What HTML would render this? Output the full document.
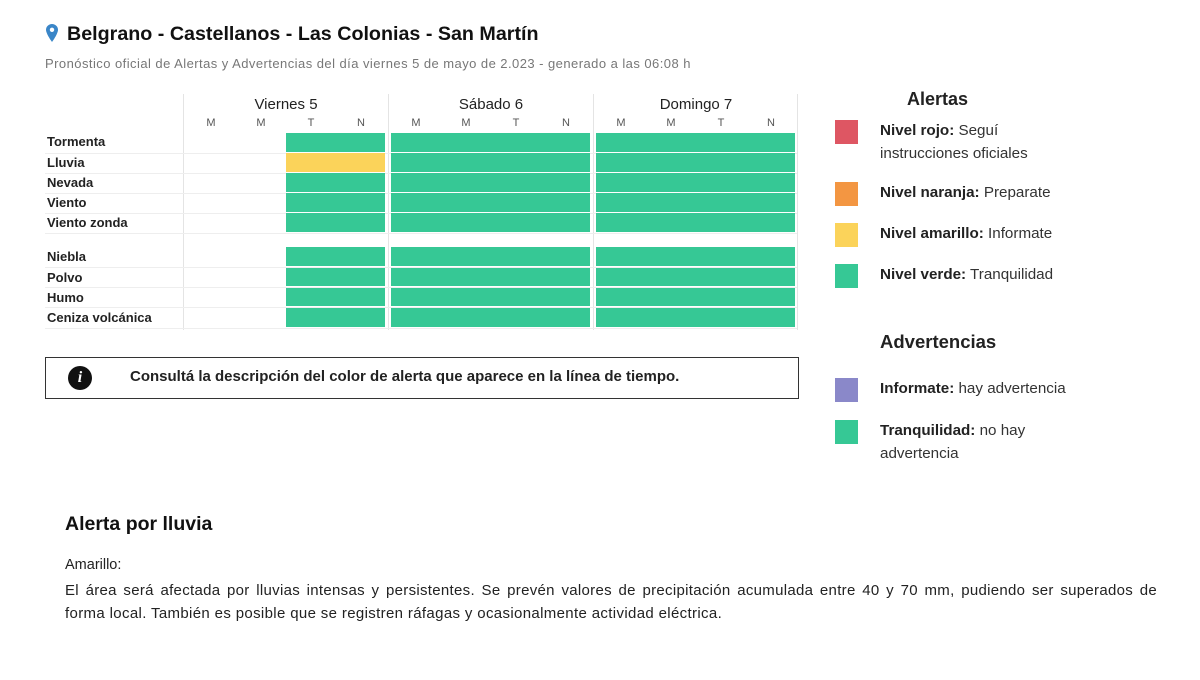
<!DOCTYPE html>
<html><head><meta charset="utf-8"><style>
body{margin:0;width:1200px;height:680px;background:#fff;font-family:"Liberation Sans",Arial,sans-serif;color:#222;position:relative;overflow:hidden}
.a{position:absolute;white-space:nowrap}
.lab{position:absolute;left:47px;font-size:13px;font-weight:bold;color:#222}
.line{position:absolute;left:45px;width:752px;height:1px;background:#eee}
.vs{position:absolute;top:94px;width:1px;height:236px;background:#e4e4e4}
.sw{position:absolute;left:835px;width:23px;height:24px}
.lt{position:absolute;left:880px;font-size:15.2px;color:#333;line-height:23px}
.lt b{color:#222}
.q{position:absolute;top:117px;font-size:11px;color:#555;width:20px;text-align:center}
.d{position:absolute;top:96px;font-size:15px;color:#222;text-align:center;width:200px}
</style></head><body>
<svg class="a" style="left:46px;top:24px" width="12" height="18" viewBox="0 0 12 18"><path d="M6 0C2.7 0 0 2.6 0 5.8 0 10 6 18 6 18s6-8 6-12.2C12 2.6 9.3 0 6 0z" fill="#3a86c8"/><circle cx="6" cy="5.8" r="2.2" fill="#fff"/></svg>
<div class="a" style="left:67px;top:23px;font-size:19.7px;font-weight:bold;color:#111">Belgrano - Castellanos - Las Colonias - San Martín</div>
<div class="a" style="left:45px;top:56px;font-size:13px;letter-spacing:0.45px;color:#777">Pronóstico oficial de Alertas y Advertencias del día viernes 5 de mayo de 2.023 - generado a las 06:08 h</div>

<div class="vs" style="left:183px"></div><div class="vs" style="left:388px"></div><div class="vs" style="left:593px"></div><div class="vs" style="left:797px"></div>
<div class="d" style="left:186px">Viernes 5</div><div class="d" style="left:391px">Sábado 6</div><div class="d" style="left:596px">Domingo 7</div>
<div class="q" style="left:201px">M</div><div class="q" style="left:251px">M</div><div class="q" style="left:301px">T</div><div class="q" style="left:351px">N</div>
<div class="q" style="left:406px">M</div><div class="q" style="left:456px">M</div><div class="q" style="left:506px">T</div><div class="q" style="left:556px">N</div>
<div class="q" style="left:611px">M</div><div class="q" style="left:661px">M</div><div class="q" style="left:711px">T</div><div class="q" style="left:761px">N</div>

<div class="lab" style="top:134px">Tormenta</div><div class="line" style="top:153px"></div>
<div class="lab" style="top:155px">Lluvia</div><div class="line" style="top:173px"></div>
<div class="lab" style="top:175px">Nevada</div><div class="line" style="top:193px"></div>
<div class="lab" style="top:195px">Viento</div><div class="line" style="top:213px"></div>
<div class="lab" style="top:215px">Viento zonda</div><div class="line" style="top:233px"></div>
<div class="lab" style="top:249px">Niebla</div><div class="line" style="top:267px"></div>
<div class="lab" style="top:270px">Polvo</div><div class="line" style="top:287px"></div>
<div class="lab" style="top:290px">Humo</div><div class="line" style="top:307px"></div>
<div class="lab" style="top:310px">Ceniza volcánica</div><div class="line" style="top:328px"></div>

<svg class="a" style="left:0;top:0" width="800" height="340">
<g fill="#36c895">
<rect x="286" y="133" width="99" height="19"/>
<rect x="286" y="173" width="99" height="19"/><rect x="286" y="193" width="99" height="19"/><rect x="286" y="213" width="99" height="19"/>
<rect x="286" y="247" width="99" height="19"/><rect x="286" y="268" width="99" height="18"/><rect x="286" y="288" width="99" height="18"/><rect x="286" y="308" width="99" height="19"/>
</g>
<rect x="286" y="153" width="99" height="19" fill="#fbd35a"/>
<g fill="#36c895">
<rect x="391" y="133" width="199" height="19"/><rect x="391" y="153" width="199" height="19"/><rect x="391" y="173" width="199" height="19"/><rect x="391" y="193" width="199" height="19"/><rect x="391" y="213" width="199" height="19"/>
<rect x="391" y="247" width="199" height="19"/><rect x="391" y="268" width="199" height="18"/><rect x="391" y="288" width="199" height="18"/><rect x="391" y="308" width="199" height="19"/>
<rect x="596" y="133" width="199" height="19"/><rect x="596" y="153" width="199" height="19"/><rect x="596" y="173" width="199" height="19"/><rect x="596" y="193" width="199" height="19"/><rect x="596" y="213" width="199" height="19"/>
<rect x="596" y="247" width="199" height="19"/><rect x="596" y="268" width="199" height="18"/><rect x="596" y="288" width="199" height="18"/><rect x="596" y="308" width="199" height="19"/>
</g>
</svg>

<div class="a" style="left:45px;top:357px;width:752px;height:40px;border:1px solid #333"></div>
<div class="a" style="left:68px;top:366px;width:24px;height:24px;border-radius:50%;background:#111;color:#fff;font:italic bold 16px 'Liberation Serif',serif;text-align:center;line-height:24px">i</div>
<div class="a" style="left:130px;top:368px;font-size:15px;font-weight:bold;color:#222">Consultá la descripción del color de alerta que aparece en la línea de tiempo.</div>

<div class="a" style="left:907px;top:89px;font-size:18px;font-weight:bold;color:#222">Alertas</div>
<div class="sw" style="top:120px;background:#de5663"></div><div class="lt" style="top:119px"><b>Nivel rojo:</b> Seguí<br>instrucciones oficiales</div>
<div class="sw" style="top:182px;background:#f39642"></div><div class="lt" style="top:181px"><b>Nivel naranja:</b> Preparate</div>
<div class="sw" style="top:223px;background:#fbd35a"></div><div class="lt" style="top:222px"><b>Nivel amarillo:</b> Informate</div>
<div class="sw" style="top:264px;background:#36c895"></div><div class="lt" style="top:263px"><b>Nivel verde:</b> Tranquilidad</div>
<div class="a" style="left:880px;top:331px;font-size:18.5px;font-weight:bold;color:#222">Advertencias</div>
<div class="sw" style="top:378px;background:#8a88c9"></div><div class="lt" style="top:377px"><b>Informate:</b> hay advertencia</div>
<div class="sw" style="top:420px;background:#36c895"></div><div class="lt" style="top:419px"><b>Tranquilidad:</b> no hay<br>advertencia</div>

<div class="a" style="left:65px;top:513px;font-size:19.5px;font-weight:bold;color:#111">Alerta por lluvia</div>
<div class="a" style="left:65px;top:557px;font-size:14.5px;color:#222">Amarillo:</div>
<div class="a" style="left:65px;top:579px;width:1092px;white-space:nowrap;font-size:15px;letter-spacing:0.3px;line-height:23px;color:#222;text-align:justify;text-align-last:justify">El área será afectada por lluvias intensas y persistentes. Se prevén valores de precipitación acumulada entre 40 y 70 mm, pudiendo ser superados de</div>
<div class="a" style="left:65px;top:602px;font-size:15px;line-height:23px;color:#222;letter-spacing:0.35px">forma local. También es posible que se registren ráfagas y ocasionalmente actividad eléctrica.</div>
</body></html>
